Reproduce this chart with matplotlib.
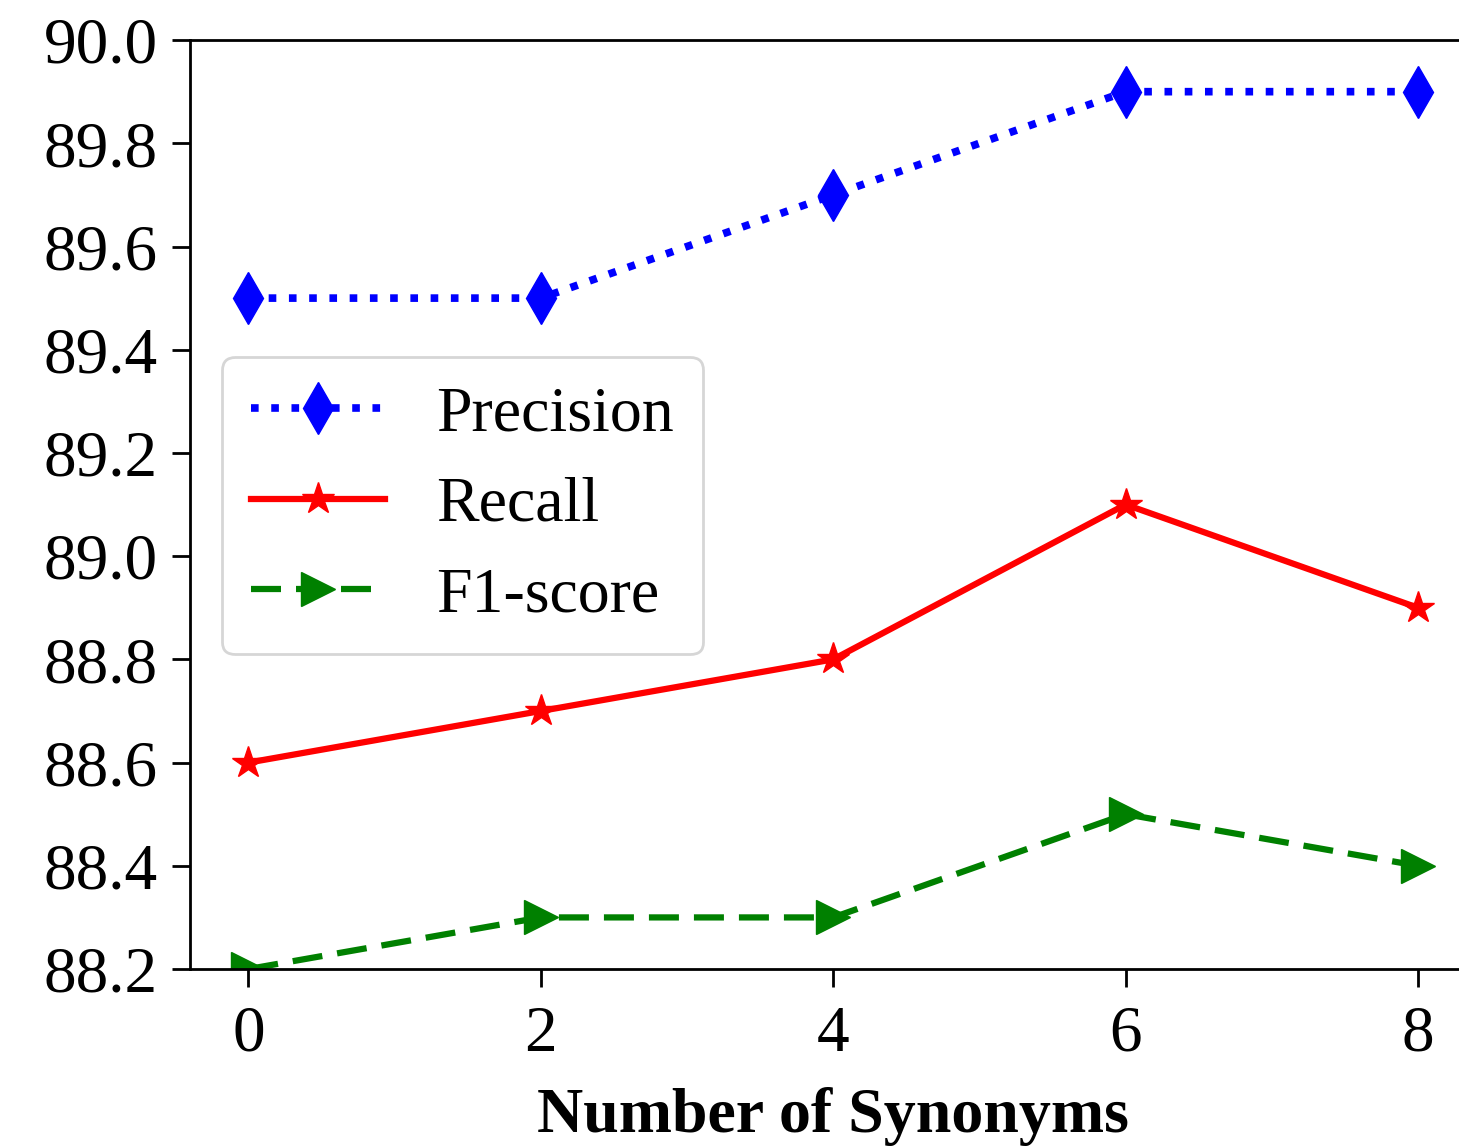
import matplotlib.pyplot as plt

plt.rcParams['font.family'] = ['Liberation Serif', 'DejaVu Serif']

synonyms = [0, 2, 4, 6, 8]
precision = [89.5, 89.5, 89.7, 89.9, 89.9]
recall = [88.6, 88.7, 88.8, 89.1, 88.9]
f1 = [88.2, 88.3, 88.3, 88.5, 88.4]

fig = plt.figure(figsize=(14.59, 11.48), dpi=100)
ax = fig.add_axes([0.1302, 0.1559, 0.8818, 0.8092])

ax.plot(synonyms, precision, color='blue', linestyle=':', linewidth=5.5,
        marker='d', markersize=26, label='Precision')
ax.plot(synonyms, recall, color='red', linestyle='-', linewidth=4.5,
        marker='*', markersize=24, label='Recall')
ax.plot(synonyms, f1, color='green', linestyle='--', linewidth=4.5,
        marker='>', markersize=24, label='F1-score', dashes=(4.8, 2.4))

ax.set_xlim(-0.4, 8.4)
ax.set_ylim(88.2, 90.0)
ax.set_xticks(synonyms)
ax.set_yticks([88.2, 88.4, 88.6, 88.8, 89.0, 89.2, 89.4, 89.6, 89.8, 90.0])
ax.set_yticklabels(['88.2', '88.4', '88.6', '88.8', '89.0', '89.2', '89.4',
                    '89.6', '89.8', '90.0'])
ax.tick_params(labelsize=47, length=13, width=2)
ax.tick_params(axis='x', pad=13)
ax.tick_params(axis='y', pad=10)
for s in ax.spines.values():
    s.set_linewidth(2)

ax.set_xlabel('Number of Synonyms', fontsize=46, fontweight='bold', labelpad=16)

leg = ax.legend(loc='upper left', bbox_to_anchor=(0.025, 0.659), fontsize=46,
                handlelength=2.1, handletextpad=0.8, borderpad=0.45,
                labelspacing=0.5, borderaxespad=0, framealpha=0.8)
leg.get_frame().set_linewidth(2)

fig.savefig('out.png', dpi=100)
